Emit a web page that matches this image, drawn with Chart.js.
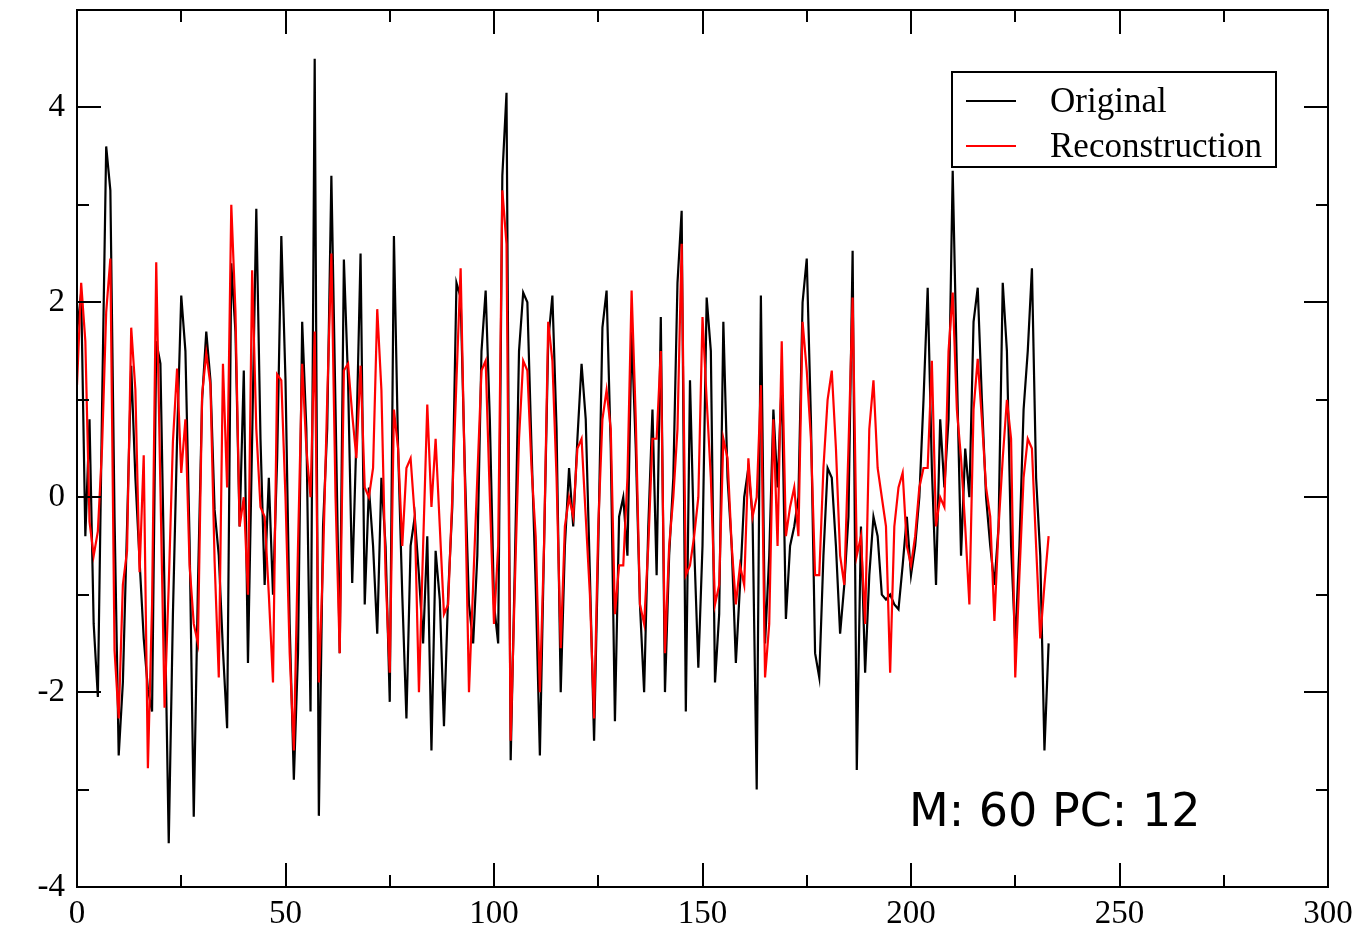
<!DOCTYPE html>
<html>
<head>
<meta charset="utf-8">
<script src="https://cdn.jsdelivr.net/npm/chart.js@4.4.1/dist/chart.umd.min.js"></script>
<style>
  html, body { margin: 0; padding: 0; background: #fff; }
  #wrap { width: 1365px; height: 927px; }
</style>
</head>
<body>
<div id="wrap"><canvas id="chart" width="1365" height="927"></canvas></div>
<script>
// Original signal vs. its reconstruction, one value per sample (x = 0..233).
const original = [
  1.7, 2.1, -0.4, 0.8, -1.3, -2.05, 0.9, 3.6, 3.15, -0.2,
  -2.65, -1.9, -0.3, 1.35, 0.2, -0.65, -1.45, -1.97, -2.2, 1.6,
  1.37, -1.0, -3.55, -1.2, 0.6, 2.07, 1.5, -0.45, -3.28, -0.9,
  1.0, 1.7, 1.2, -0.13, -0.6, -1.57, -2.37, 2.4, 1.7, -0.3,
  1.3, -1.7, 0.6, 2.96, 0.6, -0.9, 0.2, -1.0, 0.4, 2.68,
  1.2, -1.3, -2.9, -1.6, 1.8, 0.7, -2.2, 4.5, -3.27, -0.3,
  0.7, 3.3, 0.9, -1.6, 2.44, 1.2, -0.88, 0.6, 2.5, -1.1,
  0.1, -0.5, -1.4, 0.2, -0.5, -2.1, 2.68, 0.5, -1.0, -2.27,
  -0.5, -0.2, -0.8, -1.5, -0.4, -2.6, -0.55, -1.05, -2.35, -1.0,
  -0.1, 2.2, 2.05, 0.3, -1.1, -1.5, -0.6, 1.5, 2.12, 0.8,
  -1.1, -1.5, 3.3, 4.15, -2.7, -0.7, 1.5, 2.1, 2.0, 0.5,
  -0.9, -2.65, -0.5, 1.6, 2.07, 0.7, -2.0, -0.5, 0.3, -0.3,
  0.6, 1.37, 0.8, -0.8, -2.5, -0.5, 1.74, 2.12, 0.5, -2.3,
  -0.2, 0.0, -0.6, 1.7, 0.5, -1.1, -2.0, -0.3, 0.9, -0.8,
  1.85, -2.0, -0.6, 0.2, 2.2, 2.94, -2.2, 1.2, -0.5, -1.75,
  -0.5, 2.05, 1.5, -1.9, -1.2, 1.8, 0.2, -0.5, -1.7, -0.9,
  0.0, 0.3, -0.2, -3.0, 2.07, -1.5, -0.6, 0.9, 0.1, 1.2,
  -1.25, -0.5, -0.3, 0.0, 2.0, 2.45, 0.8, -1.6, -1.85, -0.6,
  0.3, 0.2, -0.5, -1.4, -0.9, -0.2, 2.53, -2.8, -0.3, -1.8,
  -0.8, -0.2, -0.4, -1.0, -1.05, -1.0, -1.1, -1.15, -0.7, -0.2,
  -0.8, -0.5, 0.0, 1.0, 2.15, 0.3, -0.9, 0.8, 0.1, 0.8,
  3.35, 1.3, -0.6, 0.5, 0.0, 1.8, 2.15, 1.0, 0.0, -0.5,
  -0.9, -0.3, 2.2, 1.5, -0.5, -1.5, -0.5, 0.9, 1.5, 2.35,
  0.2, -0.6, -2.6, -1.5
];
const reconstruction = [
  1.15, 2.2, 1.6, -0.25, -0.6, -0.35, 0.5, 1.9, 2.45, -1.57,
  -2.27, -0.9, -0.55, 1.74, 1.1, -0.77, 0.43, -2.78, -1.1, 2.41,
  0.1, -2.16, -0.9, 0.57, 1.32, 0.25, 0.8, -0.7, -1.3, -1.5,
  1.05, 1.48, 1.15, -0.66, -1.85, 1.37, 0.1, 3.0, 1.9, -0.3,
  0.0, -1.0, 2.33, 0.7, -0.1, -0.2, -1.0, -1.9, 1.26, 1.2,
  0.0, -1.6, -2.6, -0.5, 1.37, 0.5, 0.0, 1.7, -1.9, -0.66,
  1.0, 2.5, 0.0, -1.6, 1.3, 1.37, 0.85, 0.4, 1.35, 0.1,
  0.0, 0.3, 1.93, 1.1, -0.8, -1.8, 0.9, 0.5, -0.5, 0.3,
  0.4, -0.2, -2.0, -0.5, 0.95, -0.1, 0.6, -0.3, -1.2, -1.1,
  0.0, 1.2, 2.35, 0.2, -2.0, -0.9, 0.2, 1.3, 1.4, 0.0,
  -1.3, -0.5, 3.15, 2.6, -2.5, -0.9, 0.6, 1.4, 1.3, 0.3,
  -0.4, -2.0, -0.5, 1.8, 1.4, 0.2, -1.55, -0.3, 0.0, -0.2,
  0.5, 0.6, -0.2, -1.0, -2.27, -0.3, 0.8, 1.1, 0.7, -1.2,
  -0.7, -0.7, 0.2, 2.12, 0.8, -1.1, -1.3, -0.5, 0.6, 0.6,
  1.5, -1.6, -0.5, 0.0, 0.7, 2.6, -0.8, -0.7, -0.4, 0.0,
  1.85, 1.0, 0.2, -1.1, -0.9, 0.6, 0.4, -0.5, -1.1, -0.7,
  -0.9, 0.4, -0.2, 0.0, 1.15, -1.85, -1.3, 0.8, -0.5, 1.6,
  -0.4, -0.1, 0.1, -0.4, 1.8, 1.3, 0.6, -0.8, -0.8, 0.3,
  1.0, 1.3, 0.5, -0.6, -0.9, 0.5, 2.05, -0.6, -0.4, -1.3,
  0.7, 1.2, 0.3, 0.0, -0.3, -1.8, -0.3, 0.1, 0.25, -0.5,
  -0.7, -0.4, 0.1, 0.3, 0.3, 1.4, -0.3, 0.0, -0.1, 1.5,
  2.1, 0.9, 0.4, -0.3, -1.1, 0.9, 1.42, 0.8, 0.1, -0.2,
  -1.27, -0.3, 0.4, 1.0, 0.6, -1.85, -0.8, 0.2, 0.6, 0.5,
  -0.5, -1.45, -0.9, -0.4
];
const seriesNames = ['Original', 'Reconstruction'];
const seriesColors = ['#000000', '#ff0000'];
const xTickLabels = [0, 50, 100, 150, 200, 250, 300];
const yTickLabels = [-4, -2, 0, 2, 4];
const note = 'M: 60 PC: 12';

const toPoints = arr => arr.map((v, i) => ({ x: i, y: v }));

// Frame with inward ticks on all four sides, the boxed legend and the note.
const framePlugin = {
  id: 'frame',
  afterDraw(chart) {
    const { ctx, chartArea: a, scales: { x, y } } = chart;
    ctx.save();
    ctx.strokeStyle = '#000';
    ctx.lineWidth = 2;
    ctx.strokeRect(a.left, a.top, a.right - a.left, a.bottom - a.top);

    ctx.beginPath();
    x.ticks.forEach(t => {
      const px = Math.round(x.getPixelForValue(t.value));
      const len = xTickLabels.includes(t.value) ? 24 : 12;
      ctx.moveTo(px, a.bottom); ctx.lineTo(px, a.bottom - len);
      ctx.moveTo(px, a.top); ctx.lineTo(px, a.top + len);
    });
    y.ticks.forEach(t => {
      const py = Math.round(y.getPixelForValue(t.value));
      const len = yTickLabels.includes(t.value) ? 24 : 12;
      ctx.moveTo(a.left, py); ctx.lineTo(a.left + len, py);
      ctx.moveTo(a.right, py); ctx.lineTo(a.right - len, py);
    });
    ctx.stroke();

    // legend box
    const box = { x: 952, y: 72, w: 324, h: 95 };
    ctx.fillStyle = '#fff';
    ctx.fillRect(box.x, box.y, box.w, box.h);
    ctx.strokeRect(box.x, box.y, box.w, box.h);
    ctx.font = '35px "Liberation Serif", "DejaVu Serif", serif';
    ctx.textBaseline = 'middle';
    ctx.textAlign = 'left';
    chart.data.datasets.forEach((ds, i) => {
      const ly = box.y + 29 + i * 45;
      ctx.strokeStyle = ds.borderColor;
      ctx.lineWidth = 2;
      ctx.beginPath();
      ctx.moveTo(box.x + 14, ly); ctx.lineTo(box.x + 64, ly);
      ctx.stroke();
      ctx.fillStyle = '#000';
      ctx.fillText(ds.label, box.x + 98, ly + 2);
    });

    // parameter note
    ctx.font = '46px "DejaVu Sans", sans-serif';
    ctx.textBaseline = 'alphabetic';
    ctx.fillStyle = '#000';
    ctx.fillText(note, 909, 826);
    ctx.restore();
  }
};

const whiteBg = {
  id: 'whiteBg',
  beforeDraw(chart) {
    const { ctx, width, height } = chart;
    ctx.save();
    ctx.fillStyle = '#fff';
    ctx.fillRect(0, 0, width, height);
    ctx.restore();
  }
};

const tickFont = { family: '"Liberation Serif", "DejaVu Serif", serif', size: 33 };

new Chart(document.getElementById('chart'), {
  type: 'line',
  data: {
    datasets: [
      {
        label: seriesNames[0],
        data: toPoints(original),
        borderColor: seriesColors[0],
        borderWidth: 2.2,
        pointRadius: 0,
        tension: 0,
        order: 2
      },
      {
        label: seriesNames[1],
        data: toPoints(reconstruction),
        borderColor: seriesColors[1],
        borderWidth: 2.2,
        pointRadius: 0,
        tension: 0,
        order: 1
      }
    ]
  },
  options: {
    responsive: false,
    animation: false,
    devicePixelRatio: 1,
    layout: { padding: { left: 0, top: 10, right: 37, bottom: 0 } },
    plugins: { legend: { display: false }, tooltip: { enabled: false } },
    scales: {
      x: {
        type: 'linear',
        min: 0,
        max: 300,
        grid: { display: false, drawTicks: false },
        border: { display: false },
        ticks: {
          stepSize: 25,
          color: '#000',
          font: tickFont,
          padding: 8,
          maxRotation: 0,
          autoSkip: false,
          callback: v => (xTickLabels.includes(v) ? String(v) : '')
        },
        afterFit: s => { s.height = 40; s.paddingLeft = 0; s.paddingRight = 0; }
      },
      y: {
        min: -4,
        max: 5,
        grid: { display: false, drawTicks: false },
        border: { display: false },
        ticks: {
          stepSize: 1,
          color: '#000',
          font: tickFont,
          padding: 12,
          autoSkip: false,
          callback: v => (yTickLabels.includes(v) ? String(v) : '')
        },
        afterFit: s => { s.width = 77; s.paddingTop = 0; s.paddingBottom = 0; }
      }
    }
  },
  plugins: [whiteBg, framePlugin]
});
</script>
</body>
</html>
